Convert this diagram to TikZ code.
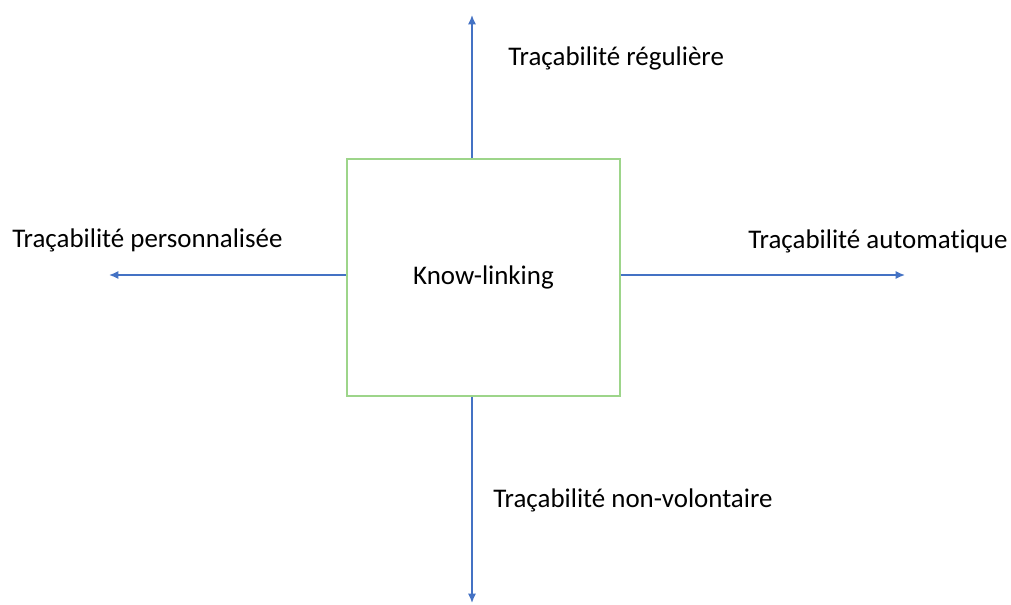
\documentclass[tikz,border=0pt]{standalone}
\usepackage{fontspec}
\setmainfont{Carlito}[RawFeature={-liga}]
\usetikzlibrary{arrows.meta}
\definecolor{arrblue}{HTML}{4472C4}
\definecolor{boxgreen}{HTML}{9DD58A}
\begin{document}
\begin{tikzpicture}[x=0.75pt,y=-0.75pt,
  axis/.style={draw=arrblue,line width=1.1pt,-{Latex[length=7pt,width=6pt]}},
  lbl/.style={font=\fontsize{20.2}{23}\selectfont,anchor=west,inner sep=0pt},
  kbox/.style={draw=boxgreen,line width=1.4pt,minimum width=273*0.75pt,minimum height=237*0.75pt,inner sep=0pt,font=\fontsize{20.2}{23}\selectfont}]
\useasboundingbox (0,0) rectangle (1011,604);
\node[kbox] (box) at (483.5,277.5) {Know-linking};
\coordinate (up) at (472,15);
\coordinate (lf) at (109,275);
\coordinate (rt) at (905,275);
\coordinate (dn) at (472,603);
\draw[axis] (box.north -| up) -- (up);
\draw[axis] (box.west |- lf) -- (lf);
\draw[axis] (box.east |- rt) -- (rt);
\draw[axis] (box.south -| dn) -- (dn);
\node[lbl] (t1) at (508,58) {Traçabilité régulière};
\node[lbl] (t2) at (12,240) {Traçabilité personnalisée};
\node[lbl] (t3) at (748,241) {Traçabilité automatique};
\node[lbl] (t4) at (493,500) {Traçabilité non-volontaire};
\end{tikzpicture}
\end{document}
